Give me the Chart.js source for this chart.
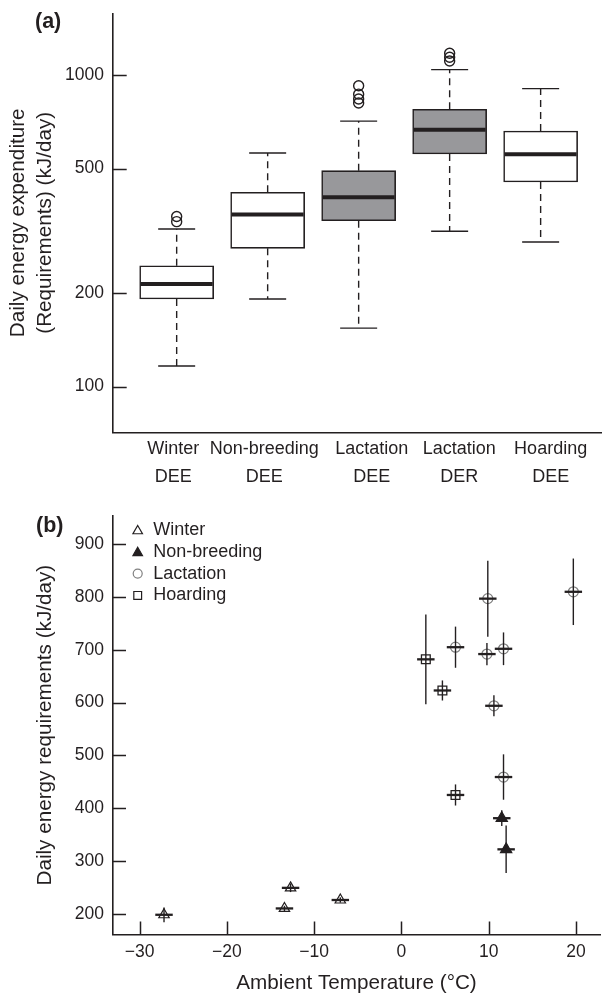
<!DOCTYPE html>
<html>
<head>
<meta charset="utf-8">
<script src="https://cdn.jsdelivr.net/npm/chart.js@4.4.1/dist/chart.umd.min.js"></script>
<style>
  html, body { margin: 0; padding: 0; background: #fff; }
  #wrap { position: relative; width: 608px; height: 995px; }
  .panel { position: absolute; left: 0; width: 608px; }
</style>
</head>
<body>
<div id="wrap">
  <div class="panel" style="top:0;height:490px"><canvas id="chart-a" width="608" height="490"></canvas></div>
  <div class="panel" style="top:490px;height:505px"><canvas id="chart-b" width="608" height="505"></canvas></div>
</div>
<script>
// ---- panel (a): box plots, kJ/day on a log axis ----
const catTop = ["Winter", "Non-breeding", "Lactation", "Lactation", "Hoarding"];
const catBottom = ["DEE", "DEE", "DEE", "DER", "DEE"];
const whiskLow = [116.5, 191, 154, 315, 291];
const q1 = [191, 277.6, 340.5, 557, 453];
const median = [213.4, 356, 404.6, 666, 555.7];
const q3 = [244, 420, 492.5, 774.6, 660];
const whiskHigh = [320, 561, 710, 1038, 902];
const outliers = [[338, 351], [], [811, 836, 866, 922], [1106, 1137, 1171], []];
const yTicksA = [100, 200, 500, 1000];

// ---- panel (b): mean +- SD against ambient temperature ----
const winterT = [-27.2, -13.4, -12.7, -7.0];
const winterE = [198, 210, 249, 226];
const winterSd = [14, 5, 8, 5];
const nonbreedT = [11.5, 12.0];
const nonbreedE = [381, 322];
const nonbreedSd = [15, 45];
const lactT = [6.2, 9.9, 9.8, 11.7, 10.6, 19.7, 11.7];
const lactE = [705, 797, 692, 702, 594, 810, 459];
const lactSd = [39, 72, 21, 31, 20, 63, 43];
const hoardT = [2.8, 4.7, 6.2];
const hoardE = [682, 623, 425];
const hoardSd = [85, 19, 20];
const tErr = 1.0; // half length of the horizontal bar, degC
const xTicksB = [-30, -20, -10, 0, 10, 20];
const yTicksB = [200, 300, 400, 500, 600, 700, 800, 900];
const seriesNames = ["Winter", "Non-breeding", "Lactation", "Hoarding"];

// layout / styling
const FONT = '"Liberation Sans", Arial, Helvetica, sans-serif';
const INK = "#231f20";
const GREY_FILL = "#98989b";
const LACT_GREY = "#808080";
const boxFill = ["#ffffff", "#ffffff", GREY_FILL, GREY_FILL, "#ffffff"];
const labelPos = [0.962, 1.962, 3.144, 4.105, 5.11]; // where the category text sits
const BOX_W = 74;

Chart.defaults.font.family = FONT;
Chart.defaults.color = INK;

const fmtNum = (v) => (v < 0 ? "\u2212" + Math.abs(v) : String(v));
const noPad = (s) => { s.paddingLeft = 0; s.paddingRight = 0; s.paddingTop = 0; s.paddingBottom = 0; };

// ticks that point into the plot
const inTicks = {
    id: "inTicks",
    afterDraw(chart, args, opts) {
        const { ctx, chartArea } = chart;
        ctx.save();
        ctx.strokeStyle = INK;
        ctx.lineWidth = 1.5;
        ctx.beginPath();
        if (opts.y) {
            chart.scales.y.ticks.forEach((t) => {
                const py = Math.round(chart.scales.y.getPixelForValue(t.value)) + 0.5;
                ctx.moveTo(chartArea.left, py);
                ctx.lineTo(chartArea.left + opts.y, py);
            });
        }
        if (opts.x) {
            chart.scales.x.ticks.forEach((t) => {
                const px = Math.round(chart.scales.x.getPixelForValue(t.value)) + 0.5;
                ctx.moveTo(px, chartArea.bottom);
                ctx.lineTo(px, chartArea.bottom - opts.x);
            });
        }
        ctx.stroke();
        ctx.restore();
    },
};

const panelTag = {
    id: "panelTag",
    afterDraw(chart, args, opts) {
        const ctx = chart.ctx;
        ctx.save();
        ctx.font = "bold 21.5px " + FONT;
        ctx.fillStyle = INK;
        ctx.textBaseline = "middle";
        ctx.fillText(opts.text, opts.x, opts.y);
        ctx.restore();
    },
};

// whiskers and medians for the boxes
const boxExtras = {
    id: "boxExtras",
    afterDatasetsDraw(chart) {
        const { ctx, scales } = chart;
        const half = BOX_W / 2;
        ctx.save();
        ctx.strokeStyle = INK;
        catTop.forEach((_, i) => {
            const px = scales.x.getPixelForValue(i + 1);
            const yLo = scales.y.getPixelForValue(whiskLow[i]);
            const yQ1 = scales.y.getPixelForValue(q1[i]);
            const yQ3 = scales.y.getPixelForValue(q3[i]);
            const yHi = scales.y.getPixelForValue(whiskHigh[i]);
            const yMed = scales.y.getPixelForValue(median[i]);
            // dashed whiskers
            ctx.lineWidth = 1.4;
            ctx.setLineDash([7, 5]);
            ctx.beginPath();
            ctx.moveTo(px, yQ3);
            ctx.lineTo(px, yHi);
            ctx.moveTo(px, yQ1);
            ctx.lineTo(px, yLo);
            ctx.stroke();
            // caps
            ctx.setLineDash([]);
            ctx.beginPath();
            ctx.moveTo(px - half / 2, yHi);
            ctx.lineTo(px + half / 2, yHi);
            ctx.moveTo(px - half / 2, yLo);
            ctx.lineTo(px + half / 2, yLo);
            ctx.stroke();
            // median
            ctx.lineWidth = 4;
            ctx.beginPath();
            ctx.moveTo(px - half + 1, yMed);
            ctx.lineTo(px + half - 1, yMed);
            ctx.stroke();
        });
        ctx.restore();
    },
};

const outlierPts = [];
outliers.forEach((list, i) => list.forEach((v) => outlierPts.push({ x: i + 1, y: v })));

new Chart(document.getElementById("chart-a"), {
    type: "bar",
    data: {
        datasets: [
            {
                type: "bar",
                data: catTop.map((_, i) => ({ x: i + 1, y: [q1[i], q3[i]] })),
                backgroundColor: boxFill,
                borderColor: INK,
                borderWidth: 1.6,
                borderSkipped: false,
                barThickness: BOX_W,
            },
            {
                type: "scatter",
                data: outlierPts,
                pointStyle: "circle",
                radius: 5,
                borderColor: INK,
                borderWidth: 1.4,
                backgroundColor: "rgba(0,0,0,0)",
            },
        ],
    },
    options: {
        responsive: false,
        animation: false,
        events: [],
        layout: { padding: { top: 13.3, left: 0, right: 0, bottom: 0 } },
        plugins: {
            legend: { display: false },
            tooltip: { enabled: false },
            inTicks: { y: 14 },
            panelTag: { text: "(a)", x: 35, y: 21.7 },
        },
        scales: {
            x: {
                type: "linear",
                offset: false,
                min: 0.297,
                max: 5.67,
                afterBuildTicks: (s) => { s.ticks = labelPos.map((v) => ({ value: v })); },
                afterFit: (s) => { s.height = 57.7; noPad(s); },
                grid: { display: false, drawTicks: false, offset: false },
                border: { display: true, color: INK, width: 1.6 },
                ticks: {
                    autoSkip: false,
                    maxRotation: 0,
                    padding: 3,
                    color: INK,
                    font: { size: 18, lineHeight: 1.556 },
                    callback: (v, i) => [catTop[i], catBottom[i]],
                },
            },
            y: {
                type: "logarithmic",
                min: 71.4,
                max: 1573,
                afterBuildTicks: (s) => { s.ticks = yTicksA.map((v) => ({ value: v })); },
                afterFit: (s) => { s.width = 112.7; noPad(s); },
                grid: { display: false, drawTicks: false },
                border: { display: true, color: INK, width: 1.6 },
                ticks: { padding: 8.7, color: INK, font: { size: 17.5 }, callback: (v) => fmtNum(v) },
                title: {
                    display: true,
                    text: ["Daily energy expenditure", "(Requirements) (kJ/day)"],
                    color: INK,
                    font: { size: 20.7, lineHeight: 1.324 },
                    padding: { top: 4.6, bottom: 0 },
                },
            },
        },
    },
    plugins: [boxExtras, inTicks, panelTag],
});

// ---- panel (b) ----
function pts(xs, ys) {
    return xs.map((x, i) => ({ x: x, y: ys[i] }));
}
const sdSets = [winterSd, nonbreedSd, lactSd, hoardSd];

const errBars = {
    id: "errBars",
    afterDatasetsDraw(chart) {
        const { ctx, scales } = chart;
        ctx.save();
        ctx.strokeStyle = INK;
        chart.data.datasets.forEach((ds, d) => {
            ds.data.forEach((p, i) => {
                const px = scales.x.getPixelForValue(p.x);
                const py = scales.y.getPixelForValue(p.y);
                ctx.lineWidth = 1.4;
                ctx.beginPath();
                ctx.moveTo(px, scales.y.getPixelForValue(p.y + sdSets[d][i]));
                ctx.lineTo(px, scales.y.getPixelForValue(p.y - sdSets[d][i]));
                ctx.stroke();
                ctx.lineWidth = 2.3;
                ctx.beginPath();
                ctx.moveTo(scales.x.getPixelForValue(p.x - tErr), py);
                ctx.lineTo(scales.x.getPixelForValue(p.x + tErr), py);
                ctx.stroke();
            });
        });
        ctx.restore();
    },
};

function drawMarker(ctx, style, x, y, r, fill, stroke, lw) {
    ctx.beginPath();
    if (style === "triangle") {
        ctx.moveTo(x, y - r);
        ctx.lineTo(x + r * 0.866, y + r / 2);
        ctx.lineTo(x - r * 0.866, y + r / 2);
        ctx.closePath();
    } else if (style === "circle") {
        ctx.arc(x, y, r, 0, Math.PI * 2);
    } else {
        const h = r * Math.SQRT1_2;
        ctx.rect(x - h, y - h, 2 * h, 2 * h);
    }
    if (fill) { ctx.fillStyle = fill; ctx.fill(); }
    ctx.lineWidth = lw;
    ctx.strokeStyle = stroke;
    ctx.stroke();
}

const boxLegend = {
    id: "boxLegend",
    afterDraw(chart) {
        const { ctx, chartArea } = chart;
        ctx.save();
        ctx.font = "18px " + FONT;
        ctx.textBaseline = "middle";
        chart.data.datasets.forEach((ds, d) => {
            const y = chartArea.top + 14 + d * 21.8;
            const fill = ds.backgroundColor === INK ? INK : null;
            drawMarker(ctx, ds.pointStyle, chartArea.left + 25, y + (ds.pointStyle === "triangle" ? 1 : 0),
                ds.pointStyle === "circle" ? 4.5 : 5.5, fill, ds.borderColor, 1.2);
            ctx.fillStyle = INK;
            ctx.fillText(seriesNames[d], chartArea.left + 40.6, y);
        });
        ctx.restore();
    },
};

new Chart(document.getElementById("chart-b"), {
    type: "scatter",
    data: {
        datasets: [
            {
                label: seriesNames[0],
                data: pts(winterT, winterE),
                pointStyle: "triangle",
                radius: 6,
                borderColor: INK,
                borderWidth: 1.2,
                backgroundColor: "rgba(0,0,0,0)",
            },
            {
                label: seriesNames[1],
                data: pts(nonbreedT, nonbreedE),
                pointStyle: "triangle",
                radius: 6.5,
                borderColor: INK,
                borderWidth: 1.2,
                backgroundColor: INK,
            },
            {
                label: seriesNames[2],
                data: pts(lactT, lactE),
                pointStyle: "circle",
                radius: 5,
                borderColor: LACT_GREY,
                borderWidth: 1.2,
                backgroundColor: "rgba(0,0,0,0)",
            },
            {
                label: seriesNames[3],
                data: pts(hoardT, hoardE),
                pointStyle: "rect",
                radius: 6.2,
                borderColor: INK,
                borderWidth: 1.3,
                backgroundColor: "rgba(0,0,0,0)",
            },
        ],
    },
    options: {
        responsive: false,
        animation: false,
        events: [],
        layout: { padding: { top: 26, left: 0, right: 0, bottom: 0 } },
        plugins: {
            legend: { display: false },
            tooltip: { enabled: false },
            inTicks: { x: 12.7, y: 13.3 },
            panelTag: { text: "(b)", x: 36, y: 36 },
        },
        scales: {
            x: {
                type: "linear",
                min: -33.08,
                max: 22.79,
                afterBuildTicks: (s) => { s.ticks = xTicksB.map((v) => ({ value: v })); },
                afterFit: (s) => { s.height = 60.7; noPad(s); },
                grid: { display: false, drawTicks: false },
                border: { display: true, color: INK, width: 1.6 },
                ticks: { padding: 6.9, color: INK, font: { size: 17.5 }, maxRotation: 0, callback: (v) => fmtNum(v) },
                title: {
                    display: true,
                    text: "Ambient Temperature (\u00B0C)",
                    color: INK,
                    font: { size: 20.7, lineHeight: 1.13 },
                    padding: 0,
                },
            },
            y: {
                type: "linear",
                min: 161,
                max: 953.6,
                afterBuildTicks: (s) => { s.ticks = yTicksB.map((v) => ({ value: v })); },
                afterFit: (s) => { s.width = 112.7; noPad(s); },
                grid: { display: false, drawTicks: false },
                border: { display: true, color: INK, width: 1.6 },
                ticks: { padding: 8.7, color: INK, font: { size: 17.5 }, callback: (v) => fmtNum(v) },
                title: {
                    display: true,
                    text: "Daily energy requirements (kJ/day)",
                    color: INK,
                    font: { size: 20.7, lineHeight: 1.2 },
                    padding: { top: 32.6, bottom: 0 },
                },
            },
        },
    },
    plugins: [errBars, inTicks, boxLegend, panelTag],
});
</script>
</body>
</html>
